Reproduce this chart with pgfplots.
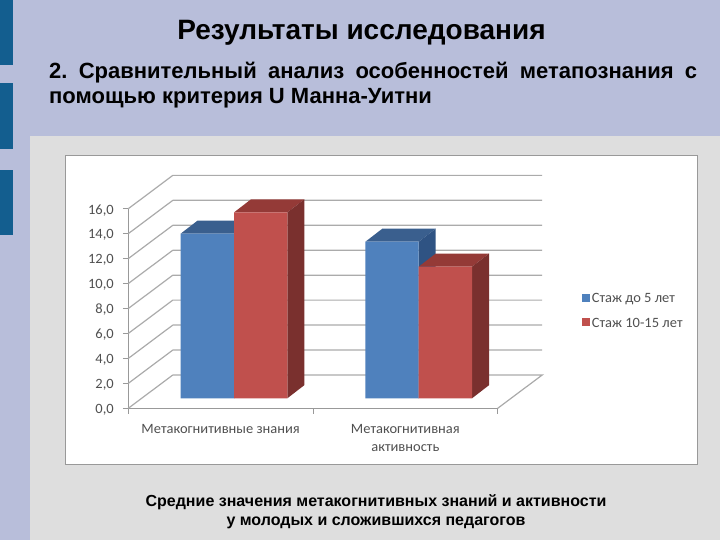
\documentclass[border=0pt]{standalone}
\usepackage{pgfplots}
\pgfplotsset{compat=1.18}
\usepackage{fontspec}
\setmainfont{Liberation Sans}
\newfontfamily\chartfont[FakeStretch=1.02]{Carlito}
\definecolor{slidebg}{HTML}{B8BEDA}
\definecolor{panel}{HTML}{DEDEDE}
\definecolor{stripe}{HTML}{135E8F}
\definecolor{gridc}{HTML}{ABABAB}
\definecolor{framec}{HTML}{999999}
\definecolor{chtext}{HTML}{505050}
\definecolor{bluef}{HTML}{4F81BD}
\definecolor{bluet}{HTML}{3A5F8E}
\definecolor{blues}{HTML}{2F5383}
\definecolor{redf}{HTML}{C0504D}
\definecolor{redt}{HTML}{943A37}
\definecolor{reds}{HTML}{7A302E}
\begin{document}
\frenchspacing
\begin{tikzpicture}[x=1pt,y=1pt]
\useasboundingbox (0,0) rectangle (720,540);
\fill[slidebg] (0,0) rectangle (720,540);
\fill[panel] (30,0) rectangle (720,404);
\fill[stripe] (0,475) rectangle (12.7,540);
\fill[stripe] (0,391) rectangle (12.7,456.7);
\fill[stripe] (0,305) rectangle (12.7,370);
\fill[white,draw=framec,line width=1.3pt] (65.7,75.7) rectangle (697.3,384.3);
\node[anchor=base,font=\bfseries\fontsize{28}{32}\selectfont] at (361.5,500.5) {Результаты исследования};
\node[anchor=north west,inner sep=0pt,text width=648pt,align=justify,font=\bfseries\fontsize{22}{25}\selectfont] at (49,478.5)
  {2. Сравнительный анализ особенностей метапознания с помощью критерия U Манна-Уитни};
\node[anchor=north,inner sep=0pt,align=center,font=\bfseries\fontsize{16}{19.5}\selectfont] at (376,46)
  {Средние значения метакогнитивных знаний и активности\\у молодых и сложившихся педагогов};
\begin{axis}[
  at={(128.3pt,131.7pt)},anchor=south west,
  scale only axis,width=369.4pt,height=199.6pt,
  xmin=0,xmax=2,ymin=0,ymax=16,clip=false,
  axis x line*=bottom,axis y line*=left,
  axis line style={framec,-,line width=1.1pt},
  unbounded coords=jump,
  xtick={0,1,2},xticklabels={},
  extra x ticks={0.5,1.5},
  extra x tick labels={Метакогнитивные знания,{Метакогнитивная\\активность}},
  extra x tick style={major tick length=0pt,
    xticklabel style={yshift=-13pt,align=center}},
  ytick={0,2,...,16},
  major tick length=5.5pt,
  tick style={framec,line width=1pt},
  tick align=outside,
  tick label style={text=chtext,font=\chartfont\fontsize{14.2}{17.5}\selectfont},
  yticklabel style={xshift=-5.5pt,yshift=-1.5pt,/pgf/number format/.cd,fixed,fixed zerofill,precision=1,use comma,assume math mode=true},
  legend style={draw=none,fill=none,anchor=west,
    at={(rel axis cs:1.2274,0.488)},
    font=\chartfont\fontsize{14.2}{17.5}\selectfont,text=chtext,
    row sep=10pt,inner sep=0pt,
    /tikz/every even column/.append style={column sep=4pt}},
  legend cell align=left,
  legend image code/.code={\fill[#1,draw=none] (0pt,-13pt) rectangle (8pt,-5pt);},
]
% back wall, left wall, floor
\addplot[forget plot,gridc,line width=1.2pt] coordinates {
(0.241,2.67)(2.241,2.67)(2,0)(2,0)(2,nan)
(0.241,4.67)(2.241,4.67)(2,nan)
(0.241,6.67)(2.241,6.67)(2,nan)
(0.241,8.67)(2.241,8.67)(2,nan)
(0.241,10.67)(2.241,10.67)(2,nan)
(0.241,12.67)(2.241,12.67)(2,nan)
(0.241,14.67)(2.241,14.67)(2,nan)
(0.241,16.67)(2.241,16.67)(2,nan)
(0.241,18.67)(2.241,18.67)(2,nan)
(0,0)(0.241,2.67)(2,nan)
(0,2)(0.241,4.67)(2,nan)
(0,4)(0.241,6.67)(2,nan)
(0,6)(0.241,8.67)(2,nan)
(0,8)(0.241,10.67)(2,nan)
(0,10)(0.241,12.67)(2,nan)
(0,12)(0.241,14.67)(2,nan)
(0,14)(0.241,16.67)(2,nan)
(0,16)(0.241,18.67)
};
\pgfplotsset{shift3d/.style={xshift=13.35pt,yshift=10pt}}
% blue tops and sides
\addplot[forget plot,shift3d,fill=bluet,draw=none] coordinates {(0.2114,13.2)(0.5,13.2)(0.592,14.25)(0.3034,14.25)} --cycle;
\addplot[forget plot,shift3d,fill=blues,draw=none] coordinates {(0.5,0)(0.592,1.05)(0.592,14.25)(0.5,13.2)} --cycle;
\addplot[forget plot,shift3d,fill=bluet,draw=none] coordinates {(1.2114,12.55)(1.5,12.55)(1.592,13.6)(1.3034,13.6)} --cycle;
\addplot[forget plot,shift3d,fill=blues,draw=none] coordinates {(1.5,0)(1.592,1.05)(1.592,13.6)(1.5,12.55)} --cycle;
% blue fronts
\addplot[ybar,bar width=0.2886,bar shift=-0.1443,shift3d,fill=bluef,draw=none] coordinates {(0.5,13.2)(1.5,12.55)};
\addlegendentry{Стаж до 5 лет}
% red tops and sides
\addplot[forget plot,shift3d,fill=redt,draw=none] coordinates {(0.5,14.9)(0.7886,14.9)(0.8806,15.95)(0.592,15.95)} --cycle;
\addplot[forget plot,shift3d,fill=reds,draw=none] coordinates {(0.7886,0)(0.8806,1.05)(0.8806,15.95)(0.7886,14.9)} --cycle;
\addplot[forget plot,shift3d,fill=redt,draw=none] coordinates {(1.5,10.55)(1.7886,10.55)(1.8806,11.6)(1.592,11.6)} --cycle;
\addplot[forget plot,shift3d,fill=reds,draw=none] coordinates {(1.7886,0)(1.8806,1.05)(1.8806,11.6)(1.7886,10.55)} --cycle;
% red fronts
\addplot[ybar,bar width=0.2886,bar shift=0.1443,shift3d,fill=redf,draw=none] coordinates {(0.5,14.9)(1.5,10.55)};
\addlegendentry{Стаж 10-15 лет}
\end{axis}
\end{tikzpicture}
\end{document}
